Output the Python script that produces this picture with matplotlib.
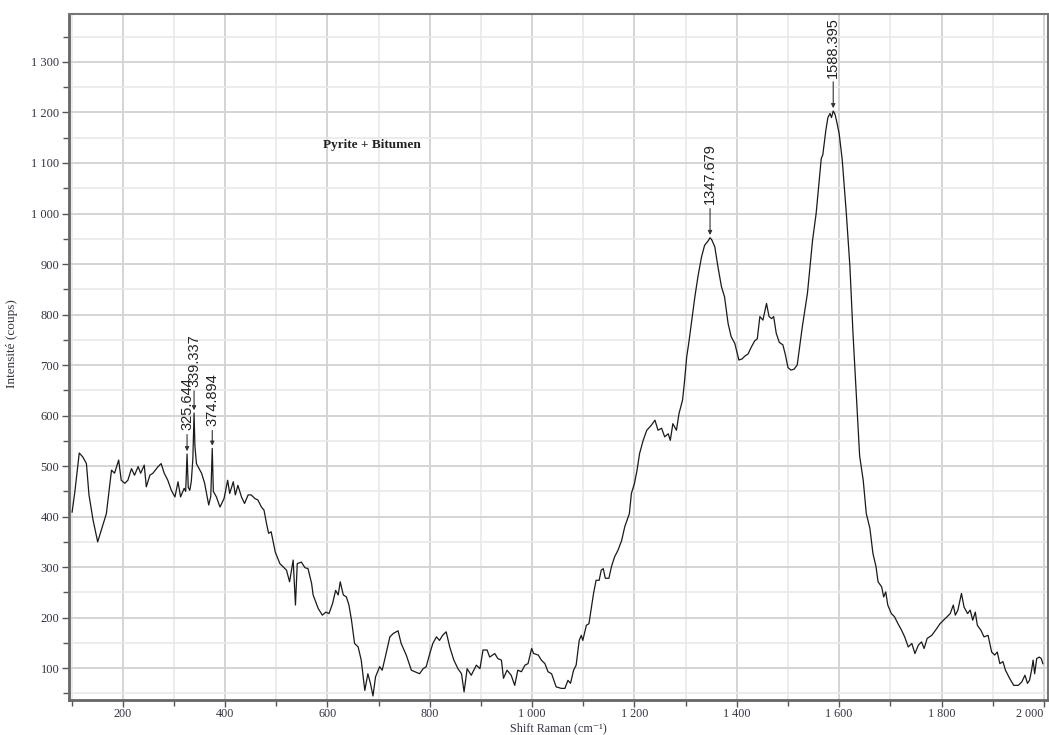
import matplotlib
matplotlib.use("Agg")
import matplotlib.pyplot as plt
from matplotlib.ticker import MultipleLocator, FuncFormatter

# Raman spectrum: pyrite + bitumen
shift = [
    101, 106, 115, 122, 129, 134, 142, 151, 158, 168, 178, 184, 192, 197, 204,
    210, 217, 223, 230, 235, 242, 246, 253, 259, 269, 275, 281, 288, 295, 302,
    308, 313, 320, 323, 325.644, 328, 331, 334, 337, 339.337, 341, 344, 347,
    354, 360, 368, 372, 374.894, 377, 383, 390, 398, 405, 409, 416, 420, 425,
    432, 438, 445, 451, 458, 464, 471, 476, 481, 485, 490, 498, 507, 513, 520,
    526, 533, 537.5, 541, 549, 556, 562, 569, 572, 582, 590, 597, 603, 610,
    616, 621, 625, 631, 637, 642, 647, 653, 660, 666, 673, 679, 684, 689, 694,
    702, 707, 713, 722, 729, 738, 744, 754, 764, 771, 780, 787, 793, 800, 806,
    813, 819, 825, 832, 839, 847, 855, 862, 867, 873, 881, 891, 898, 904, 912,
    917, 927, 933, 940, 944, 951, 959, 966, 972, 979, 986, 992, 999, 1003,
    1012, 1018, 1025, 1031, 1038, 1047, 1057, 1064, 1070, 1075, 1081, 1086,
    1092, 1096, 1099, 1106, 1111, 1116, 1120, 1125, 1131, 1135, 1139, 1143,
    1150, 1155, 1161, 1168, 1175, 1181, 1190, 1194, 1200, 1205, 1210, 1217,
    1224, 1233, 1240, 1246, 1253, 1259, 1266, 1270, 1275, 1282, 1287, 1294,
    1298, 1302, 1306, 1311, 1318, 1324, 1331, 1337, 1344, 1347.679, 1351,
    1357, 1363, 1370, 1376, 1383, 1389, 1396, 1404, 1410, 1416, 1422, 1428,
    1435, 1440, 1445, 1451, 1458, 1463, 1468, 1472, 1477, 1483, 1490, 1495,
    1500, 1506, 1512, 1518, 1522, 1528, 1538, 1548, 1555, 1565, 1568, 1574,
    1578, 1582, 1585, 1588.395, 1592, 1596, 1600, 1606, 1614, 1621, 1627,
    1634, 1640, 1647, 1653, 1660, 1666, 1672, 1676, 1683, 1687, 1691, 1695,
    1702, 1708, 1715, 1722, 1728, 1735, 1742, 1748, 1755, 1761, 1766, 1772,
    1781, 1791, 1797, 1804, 1811, 1817, 1823, 1827, 1832, 1839, 1844, 1851,
    1856, 1861, 1866, 1870, 1877, 1883, 1891, 1898, 1904, 1909, 1914, 1920,
    1925, 1933, 1941, 1950, 1957, 1963, 1968, 1972, 1976, 1979, 1982, 1986,
    1991, 1995, 1998,
]
counts = [
    409, 446, 526, 518, 505, 443, 393, 350, 373, 406, 492, 486, 512, 472, 466,
    472, 495, 482, 499, 486, 502, 459, 482, 486, 499, 505, 486, 472, 452, 439,
    469, 439, 456, 450, 524, 458, 452, 470, 515, 605, 540, 505, 499,
    486, 466, 423, 440, 535, 450, 439, 419, 436, 472, 446, 469, 443, 462,
    439, 426, 443, 443, 436, 433, 419, 413, 386, 367, 370, 330, 307, 301, 294,
    271, 314, 225, 307, 310, 299, 297, 268, 245, 218, 205, 211, 208, 228,
    254, 245, 271, 245, 241, 225, 195, 149, 142, 116, 56, 89, 70, 45, 83,
    103, 96, 122, 162, 169, 174, 149, 126, 96, 93, 89, 99, 103, 129, 149,
    162, 155, 165, 172, 142, 116, 99, 89, 53, 99, 86, 106, 99, 136, 136,
    122, 129, 119, 116, 80, 96, 86, 66, 96, 93, 106, 109, 139, 129,
    126, 116, 109, 93, 89, 63, 60, 60, 76, 70, 96, 106,
    155, 165, 155, 185, 188, 221, 248, 274, 274, 294, 297, 278,
    278, 301, 320, 334, 353, 380, 406, 446, 466, 492, 525, 551,
    571, 581, 591, 571, 575, 558, 564, 551, 584, 571, 604, 631,
    670, 716, 743, 782, 835, 875, 914, 937, 946, 952, 948,
    934, 895, 855, 835, 782, 756, 743, 710, 712, 718, 722, 735,
    748, 752, 796, 789, 822, 796, 792, 796, 763, 745, 740, 720,
    695, 690, 692, 700, 730, 776, 842, 947, 1000, 1109, 1116, 1165,
    1190, 1198, 1190, 1203, 1196, 1178, 1158, 1106, 1000, 895, 763,
    630, 520, 472, 406, 377, 327, 301, 271, 261, 241, 251, 225,
    208, 202, 188, 175, 162, 142, 149, 129, 146, 152, 139, 159,
    165, 179, 188, 195, 202, 208, 225, 205, 215, 248, 221, 208,
    215, 195, 211, 185, 175, 162, 165, 132, 126, 132, 109, 113,
    96, 80, 66, 66, 73, 86, 70, 76, 96, 116, 89, 119,
    122, 119, 109,
]

# Annotated peak positions and their intensities
peak_labels = ["325.644", "339.337", "374.894", "1347.679", "1588.395"]
peak_shift = [325.644, 339.337, 374.894, 1347.679, 1588.395]
peak_counts = [524, 605, 535, 952, 1203]

serif = ["Liberation Serif", "DejaVu Serif"]
text_col = "#333344"

fig = plt.figure(figsize=(10.49, 7.35), dpi=100)
ax = fig.add_axes([0.0658, 0.0476, 0.9332, 0.9334])

ax.plot(shift, counts, color="#1a1a1a", lw=0.9, zorder=3)

ax.set_xlim(95, 2008)
ax.set_ylim(37, 1395)

ax.xaxis.set_major_locator(MultipleLocator(200))
ax.xaxis.set_minor_locator(MultipleLocator(100))
ax.yaxis.set_major_locator(MultipleLocator(100))
ax.yaxis.set_minor_locator(MultipleLocator(50))

thousands = FuncFormatter(lambda v, _: f"{int(round(v)):,}".replace(",", " "))
ax.xaxis.set_major_formatter(thousands)
ax.yaxis.set_major_formatter(thousands)

ax.grid(which="major", color="#d4d4d4", lw=1.4, zorder=0)
ax.grid(which="minor", color="#e9e9e9", lw=1.2, zorder=0)
ax.set_axisbelow(True)

ax.tick_params(axis="both", which="major", direction="out", length=5,
               width=1.0, color="#555555", labelsize=9, labelcolor=text_col)
ax.tick_params(axis="x", which="major", pad=0.5, labelsize=8.7)
ax.tick_params(axis="y", which="major", pad=2)
ax.tick_params(axis="both", which="minor", direction="out", length=4,
               width=1.0, color="#555555")

fig.canvas.draw()
for lab in ax.get_xticklabels() + ax.get_yticklabels():
    lab.set_family(serif)
# keep the last x label inside the frame
xlabs = [t for t in ax.get_xticklabels() if t.get_text() == "2 000"]
for t in xlabs:
    t.set_horizontalalignment("right")
    t.set_x(2004)

for side in ("left", "bottom"):
    ax.spines[side].set_linewidth(2.0)
    ax.spines[side].set_color("#666666")
for side in ("top", "right"):
    ax.spines[side].set_linewidth(1.5)
    ax.spines[side].set_color("#777777")

ax.set_xlabel("Shift Raman (cm\u207b\u00b9)", family=serif,
              fontsize=8.7, color=text_col, va="center")
ax.xaxis.set_label_coords(0.5, -0.0405)
ax.set_ylabel("Intensité (coups)", family=serif, fontsize=9.5,
              color=text_col, va="center")
ax.yaxis.set_label_coords(-0.058, 0.52)

ax.text(591, 1135, "Pyrite + Bitumen", family=serif, fontsize=9.5,
        fontweight="bold", color="#222222", va="center", ha="left")

label_offsets = [17, 19, 16, 24, 24]
for lab, px, py, off in zip(peak_labels, peak_shift, peak_counts,
                            label_offsets):
    ax.annotate(lab, xy=(px, py), xytext=(0, off), textcoords="offset points",
                rotation=90, ha="center", va="bottom", fontsize=10.5,
                family=["Liberation Sans", "DejaVu Sans"], color="#222222",
                arrowprops=dict(arrowstyle="-|>", color="#333333", lw=0.8,
                                mutation_scale=6, shrinkA=1, shrinkB=2),
                zorder=4)

fig.savefig("out.png", dpi=100)
